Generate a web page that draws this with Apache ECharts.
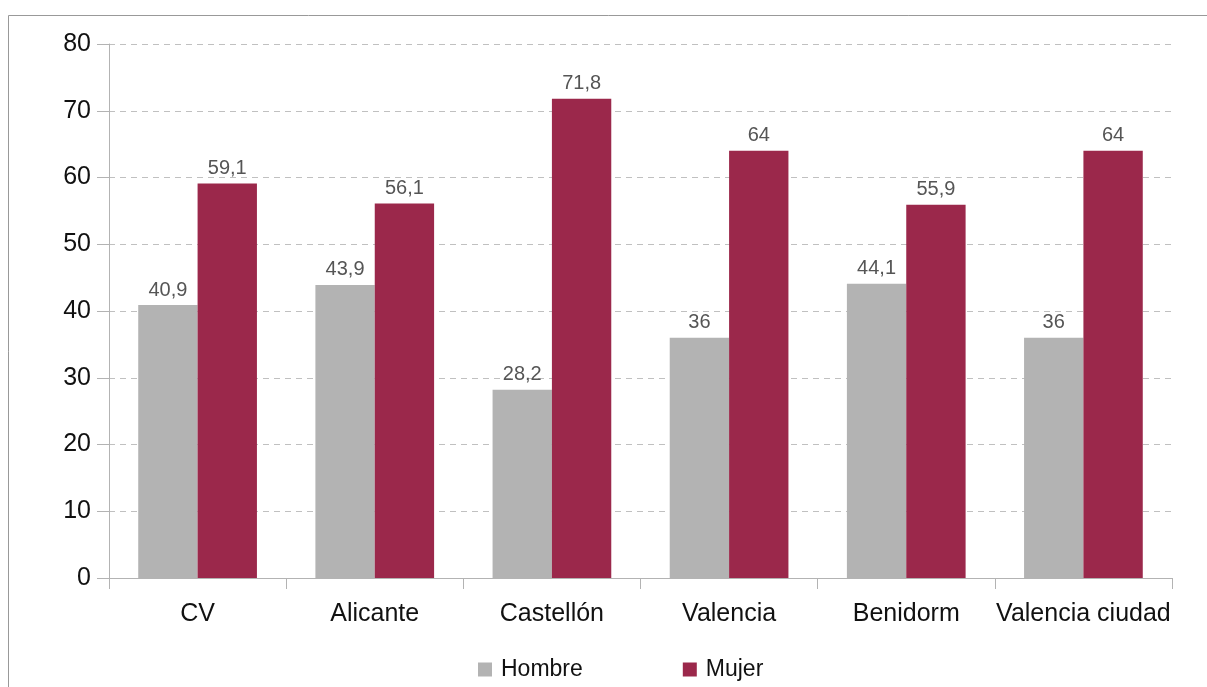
<!DOCTYPE html>
<html><head><meta charset="utf-8">
<script src="https://cdn.jsdelivr.net/npm/echarts@6/dist/echarts.min.js"></script>
<style>html,body{margin:0;padding:0;background:#fff}#c{width:1207px;height:687px}</style>
</head><body><div id="c"></div>
<script>
const categories = ['CV', 'Alicante', 'Castellón', 'Valencia', 'Benidorm', 'Valencia ciudad'];
const hombre = [40.9, 43.9, 28.2, 36, 44.1, 36];
const mujer = [59.1, 56.1, 71.8, 64, 55.9, 64];
const yTicks = [0, 10, 20, 30, 40, 50, 60, 70, 80];

const font = '"Liberation Sans", Arial, sans-serif';
const chart = echarts.init(document.getElementById('c'));
const fmt = p => String(p.value).replace('.', ',');
chart.setOption({
  animation: false,
  textStyle: {fontFamily: font},
  graphic: [{type: 'rect', shape: {x: 8.5, y: 15.5, width: 1300, height: 800}, style: {fill: 'none', stroke: '#999', lineWidth: 1}, z: -10}],
  grid: {left: 109, right: 35, top: 44, bottom: 109},
  legend: {
    left: 473, top: 653, itemWidth: 14, itemHeight: 14, itemGap: 100,
    icon: 'rect',
    textStyle: {fontSize: 23, color: '#111', fontFamily: font, padding: [0, 0, 0, 4]},
    data: ['Hombre', 'Mujer']
  },
  xAxis: {
    type: 'category', data: categories,
    axisLine: {lineStyle: {color: '#b3b3b3'}},
    axisTick: {show: true, length: 11, interval: 0, lineStyle: {color: '#b3b3b3'}},
    axisLabel: {show: true, interval: 0, fontSize: 25, color: '#111', margin: 24, fontFamily: font}
  },
  yAxis: {
    type: 'value', min: yTicks[0], max: yTicks[yTicks.length - 1], interval: 10,
    axisLine: {show: true, lineStyle: {color: '#b3b3b3'}},
    axisTick: {show: true, length: 12, lineStyle: {color: '#b3b3b3'}},
    axisLabel: {fontSize: 25, color: '#111', margin: 18, fontFamily: font},
    splitLine: {lineStyle: {color: '#c0c0c0', type: [6, 5]}}
  },
  series: [
    {name: 'Hombre', type: 'bar', data: hombre, barGap: '0%', barCategoryGap: '33%',
     itemStyle: {color: '#b3b3b3'},
     label: {show: true, position: 'top', distance: 5, fontSize: 20, color: '#555', formatter: fmt, fontFamily: font}},
    {name: 'Mujer', type: 'bar', data: mujer, barGap: '0%', barCategoryGap: '33%',
     itemStyle: {color: '#9b284b'},
     label: {show: true, position: 'top', distance: 5, fontSize: 20, color: '#555', formatter: fmt, fontFamily: font}}
  ]
});
</script></body></html>
